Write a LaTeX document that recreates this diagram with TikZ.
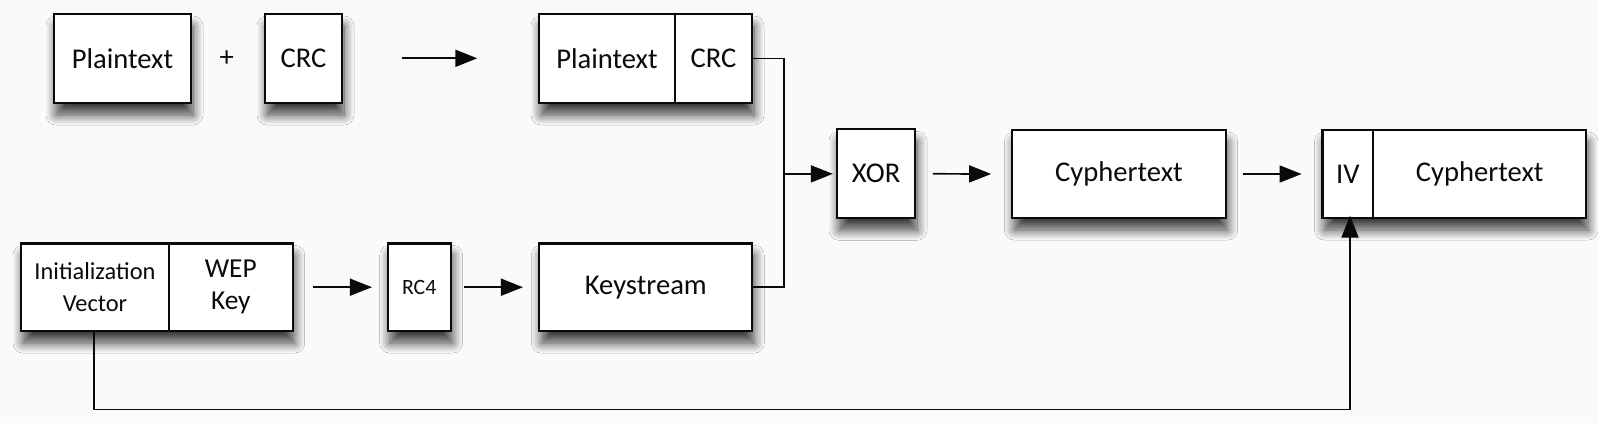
\documentclass[tikz,border=0pt]{standalone}
\usepackage{fontspec}
\setmainfont{Carlito}
\usetikzlibrary{arrows.meta,shadows.blur}
\definecolor{bg}{RGB}{250,251,249}
\definecolor{ink}{RGB}{10,10,10}
\begin{document}
\begin{tikzpicture}[x=0.5pt,y=-0.5pt,
  box/.style={draw=ink, line width=1.15pt, fill=white, inner sep=0pt,
    blur shadow={shadow xshift=1pt, shadow yshift=-6pt, shadow blur radius=5pt, shadow opacity=75, shadow blur steps=12}},
  lbl/.style={inner sep=0pt, text=ink, font=\fontsize{14.3}{16}\selectfont, align=center},
  divline/.style={draw=ink, line width=1.15pt},
  conn/.style={draw=ink, line width=0.85pt},
  arr/.style={conn, -{Triangle[length=11pt,width=8.5pt]}}]
\fill[bg] (0,0) rectangle (1598,423);
\useasboundingbox (0,0) rectangle (1598,423);

% top row
\node[box, minimum width=68.5pt, minimum height=44.5pt] (pt1) at (122.5,58.5) {};
\node[lbl] (pt1t) at (pt1) {Plaintext};
\node[box, minimum width=38.5pt, minimum height=44.5pt] (crc1) at (303.5,58.5) {};
\node[lbl] (crc1t) at (crc1) {CRC};
\node[lbl] (plus) at (226.7,59) {+};
\coordinate (a1s) at (401.7,58.3);
\coordinate (a1e) at (477.3,58.3);
\draw[arr] (a1s) -- (a1e);

\node[box, minimum width=106.5pt, minimum height=44.5pt] (ptc) at (645.5,58.5) {};
\coordinate (d1) at (675,58.5);
\draw[divline] (d1 |- ptc.north) -- (d1 |- ptc.south);
\node[lbl] (ptct) at (607,58.5) {Plaintext};
\node[lbl] (ptcc) at (713.5,58.5) {CRC};

% bottom row
\node[box, minimum width=135.85pt, minimum height=43.85pt] (ivw) at (156.85,287.2) {};
\coordinate (d2) at (169,287.2);
\draw[divline] (d2 |- ivw.north) -- (d2 |- ivw.south);
\node[lbl, font=\fontsize{12.2}{16}\selectfont] (ivt) at (95,287.2) {Initialization\\Vector};
\node[lbl, font=\fontsize{13.7}{16}\selectfont] (wept) at (230.8,287.2) {WEP\\Key};

\node[box, minimum width=31.5pt, minimum height=43.85pt] (rc4) at (419.2,287.2) {};
\node[lbl, font=\fontsize{10.9}{13}\selectfont] (rc4t) at (rc4) {RC4};

\node[box, minimum width=106.5pt, minimum height=43.85pt] (ks) at (645.8,287.2) {};
\node[lbl] (kst) at (ks) {Keystream};

% middle row
\node[box, minimum width=39pt, minimum height=44.5pt] (xor) at (876,173.8) {};
\node[lbl] (xort) at (xor) {XOR};
\node[box, minimum width=106.7pt, minimum height=44pt] (cy) at (1119,174) {};
\node[lbl] (cyt) at (cy) {Cyphertext};
\node[box, minimum width=131.85pt, minimum height=44pt] (ivc) at (1454.2,174) {};
\coordinate (d3) at (1373.3,174);
\draw[divline] (d3 |- ivc.north) -- (d3 |- ivc.south);
\node[lbl] (ivct) at (1347.8,174) {IV};
\node[lbl] (ivcc) at (1479.7,174) {Cyphertext};

% connectors
\coordinate (jx) at (784,174);
\draw[conn] (ptc.east) -| (jx) |- (ks.east);
\draw[arr, shorten >=1.5pt] (jx) -- (xor.west);
\draw[arr] ([xshift=8.3pt]xor.east) -- ([xshift=-10pt]cy.west);
\draw[arr] ([xshift=8pt]cy.east) -- ([xshift=-9.8pt]ivc.west);
\draw[arr] ([xshift=9.5pt]ivw.east) -- ([xshift=-7.3pt]rc4.west);
\draw[arr] ([xshift=6.3pt]rc4.east) -- ([xshift=-7.6pt]ks.west);

\coordinate (ivb) at (94.3,409.5);
\coordinate (up) at (1350,409.5);
\draw[arr, shorten >=-1.8pt] (ivb |- ivw.south) -- (ivb) -- (up) -- (up |- ivc.south);
\end{tikzpicture}
\end{document}
